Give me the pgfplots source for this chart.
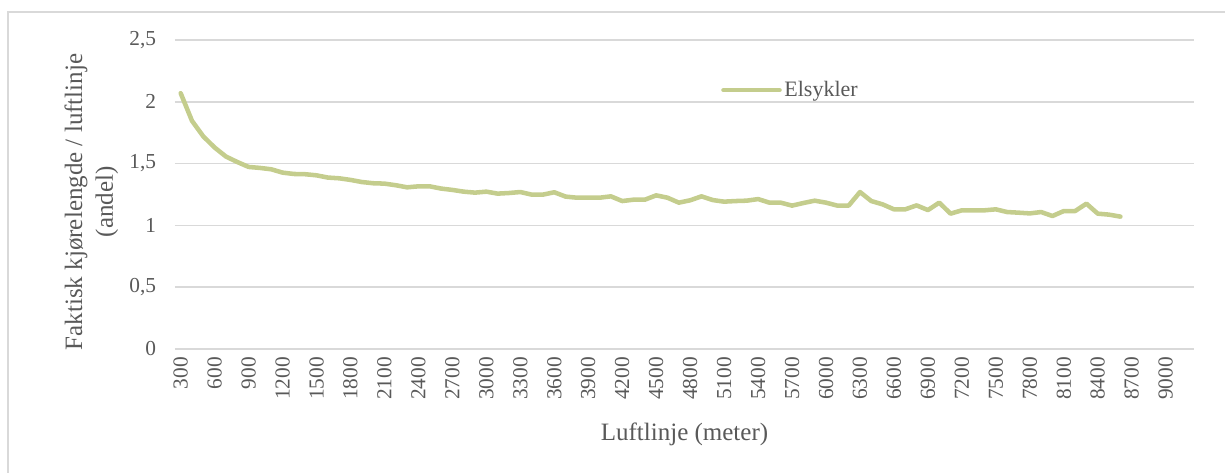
\documentclass[border=0pt]{standalone}
\usepackage{fontspec}
\setmainfont{Liberation Serif}
\usepackage{pgfplots}
\pgfplotsset{compat=1.18}
\definecolor{linegreen}{RGB}{196,205,141}
\definecolor{gridgray}{RGB}{217,217,217}
\definecolor{txtgray}{RGB}{89,89,89}
\begin{document}
\begin{tikzpicture}
\useasboundingbox (-131.25pt,-93pt) rectangle (787.5pt,261.75pt);
\draw[gridgray, line width=0.8pt] (-125.25pt,-100pt) -- (-125.25pt,252.75pt) -- (800pt,252.75pt);
\begin{axis}[
  scale only axis,
  width=764.25pt, height=231.75pt,
  xmin=250, xmax=9250,
  ymin=0, ymax=2.5,
  xtick={300,600,...,9000},
  ytick={0,0.5,1,1.5,2,2.5},
  /pgf/number format/assume math mode=true,
  /pgf/number format/use comma,
  /pgf/number format/1000 sep={},
  yticklabel style={font=\fontsize{16}{19}\selectfont, text=txtgray, inner sep=0pt, xshift=-14pt},
  xticklabel style={font=\fontsize{16}{19}\selectfont, text=txtgray, rotate=90, anchor=east, inner sep=0pt, yshift=0pt, xshift=0pt},
  xticklabel shift=6pt,
  axis line style={draw=none},
  major tick length=0pt,
  ymajorgrids,
  grid style={gridgray, line width=1.1pt},
  xlabel={Luftlinje (meter)},
  ylabel={Faktisk kjørelengde / luftlinje\\(andel)},
  xlabel style={font=\fontsize{18.75}{22.5}\selectfont, text=txtgray, at={(rel axis cs:0.5,-0.275)}, anchor=center},
  ylabel style={font=\fontsize{18.75}{23}\selectfont, text=txtgray, align=center, at={(rel axis cs:-0.082,0.476)}, anchor=center},
  legend style={draw=none, fill=none, at={(rel axis cs:0.5358,0.838)}, anchor=west, font=\fontsize{16.5}{19}\selectfont, text=txtgray, inner sep=0pt},
  legend image code/.code={\draw[#1, line cap=round] (0pt,0pt) -- (42pt,0pt);},
  legend cell align=left,
]
\addplot[linegreen, line width=3.4pt, line join=round, line cap=round] coordinates {
(300,2.07) (400,1.846) (500,1.72) (600,1.63) (700,1.557) (800,1.513) (900,1.473) (1000,1.465)
(1100,1.454) (1200,1.427) (1300,1.416) (1400,1.414) (1500,1.405) (1600,1.387) (1700,1.381) (1800,1.368)
(1900,1.351) (2000,1.341) (2100,1.338) (2200,1.325) (2300,1.308) (2400,1.316) (2500,1.316) (2600,1.298)
(2700,1.287) (2800,1.273) (2900,1.265) (3000,1.273) (3100,1.257) (3200,1.262) (3300,1.27) (3400,1.249)
(3500,1.249) (3600,1.268) (3700,1.233) (3800,1.224) (3900,1.224) (4000,1.224) (4100,1.235) (4200,1.197)
(4300,1.208) (4400,1.208) (4500,1.243) (4600,1.224) (4700,1.184) (4800,1.203) (4900,1.235) (5000,1.205)
(5100,1.192) (5200,1.197) (5300,1.2) (5400,1.213) (5500,1.184) (5600,1.184) (5700,1.16) (5800,1.181)
(5900,1.2) (6000,1.184) (6100,1.16) (6200,1.16) (6300,1.27) (6400,1.197) (6500,1.17) (6600,1.13)
(6700,1.13) (6800,1.162) (6900,1.124) (7000,1.184) (7100,1.095) (7200,1.122) (7300,1.122) (7400,1.122)
(7500,1.13) (7600,1.108) (7700,1.103) (7800,1.097) (7900,1.108) (8000,1.076) (8100,1.116) (8200,1.116)
(8300,1.176) (8400,1.095) (8500,1.087) (8600,1.071)
};
\addlegendentry{Elsykler}
\end{axis}
\end{tikzpicture}
\end{document}
